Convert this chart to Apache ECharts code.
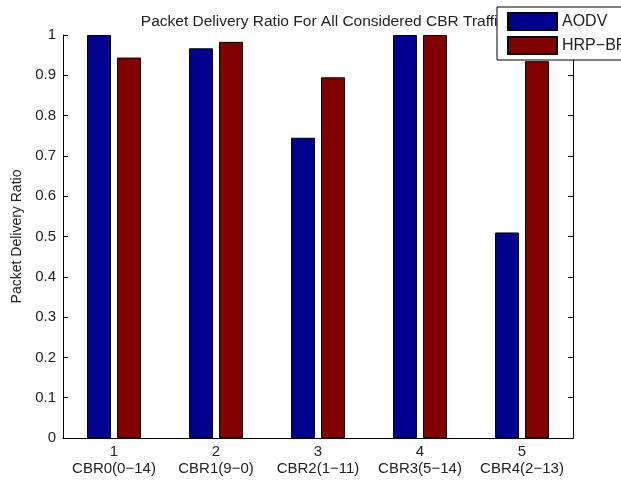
<!DOCTYPE html>
<html>
<head>
<meta charset="utf-8">
<script src="https://cdn.jsdelivr.net/npm/echarts@6/dist/echarts.min.js"></script>
<style>
html, body { margin: 0; padding: 0; background: #fff; overflow: hidden; }
/* wider than the window so the legend box runs off the right edge like the original */
#chart { width: 680px; height: 480px; }
</style>
</head>
<body>
<div id="chart"></div>
<script>
// bar groups along the x axis
var tickNumbers = ['1', '2', '3', '4', '5'];
var cbrNames = ['CBR0(0\u221214)', 'CBR1(9\u22120)', 'CBR2(1\u221211)', 'CBR3(5\u221214)', 'CBR4(2\u221213)'];
// packet delivery ratio per protocol
var aodv = [1.0, 0.967, 0.745, 1.0, 0.51];
var hrpBr = [0.944, 0.983, 0.895, 1.0, 0.935];
var yTicks = [0, 0.1, 0.2, 0.3, 0.4, 0.5, 0.6, 0.7, 0.8, 0.9, 1];

var font = 'Liberation Sans, Arial, sans-serif';
var txt = '#222';

var chart = echarts.init(document.getElementById('chart'));

var option = {
    animation: false,
    backgroundColor: '#fff',
    title: {
        text: 'Packet Delivery Ratio For All Considered CBR Traffic',
        left: 318,
        textAlign: 'center',
        top: 9,
        z: 1,
        textStyle: { fontFamily: font, fontSize: 15.5, fontWeight: 'normal', color: txt }
    },
    legend: {
        data: ['AODV', 'HRP-BR'],
        orient: 'vertical',
        left: 497,
        top: 7,
        z: 10,
        padding: [5, 20, 5, 10],
        itemWidth: 49,
        itemHeight: 17,
        itemGap: 5,
        icon: 'rect',
        backgroundColor: '#fff',
        borderColor: '#000',
        borderWidth: 1,
        borderRadius: 0,
        formatter: function (n) { return n === 'HRP-BR' ? 'HRP\u2212BR' : n; },
        textStyle: { fontFamily: font, fontSize: 16, color: txt }
    },
    grid: { left: 63, right: 107, top: 35, bottom: 42 },
    xAxis: [{
        type: 'category',
        data: tickNumbers,
        position: 'bottom',
        axisLine: { lineStyle: { color: '#000', width: 1 } },
        axisTick: { inside: true, alignWithLabel: true, length: 5, lineStyle: { color: '#000' } },
        axisLabel: {
            interval: 0,
            margin: 5,
            fontFamily: font,
            fontSize: 15,
            lineHeight: 17,
            color: txt,
            formatter: function (v, i) { return v + '\n' + cbrNames[i]; }
        }
    }, {
        type: 'category',
        data: tickNumbers,
        position: 'top',
        axisLine: { lineStyle: { color: '#000', width: 1 } },
        axisTick: { inside: true, alignWithLabel: true, interval: 0, length: 5, lineStyle: { color: '#000' } },
        axisLabel: { show: false }
    }],
    yAxis: [{
        type: 'value',
        min: yTicks[0],
        max: yTicks[yTicks.length - 1],
        interval: 0.1,
        position: 'left',
        name: 'Packet Delivery Ratio',
        nameLocation: 'middle',
        nameGap: 34,
        nameTextStyle: { fontFamily: font, fontSize: 14, color: txt },
        splitLine: { show: false },
        axisLine: { show: true, lineStyle: { color: '#000', width: 1 } },
        axisTick: { show: true, inside: true, length: 5, lineStyle: { color: '#000' } },
        axisLabel: {
            margin: 7,
            fontFamily: font,
            fontSize: 15,
            color: txt,
            formatter: function (v) { return String(Math.round(v * 10) / 10); }
        }
    }, {
        type: 'value',
        min: yTicks[0],
        max: yTicks[yTicks.length - 1],
        interval: 0.1,
        position: 'right',
        splitLine: { show: false },
        axisLine: { show: true, lineStyle: { color: '#000', width: 1 } },
        axisTick: { show: true, inside: true, length: 5, lineStyle: { color: '#000' } },
        axisLabel: { show: false }
    }],
    series: [{
        name: 'AODV',
        type: 'bar',
        data: aodv,
        barWidth: 24,
        barGap: '25%',
        itemStyle: { color: '#00008f', borderColor: '#000', borderWidth: 1 }
    }, {
        name: 'HRP-BR',
        type: 'bar',
        data: hrpBr,
        barWidth: 24,
        barGap: '25%',
        itemStyle: { color: '#800000', borderColor: '#000', borderWidth: 1 }
    }]
};

chart.setOption(option);
</script>
</body>
</html>
